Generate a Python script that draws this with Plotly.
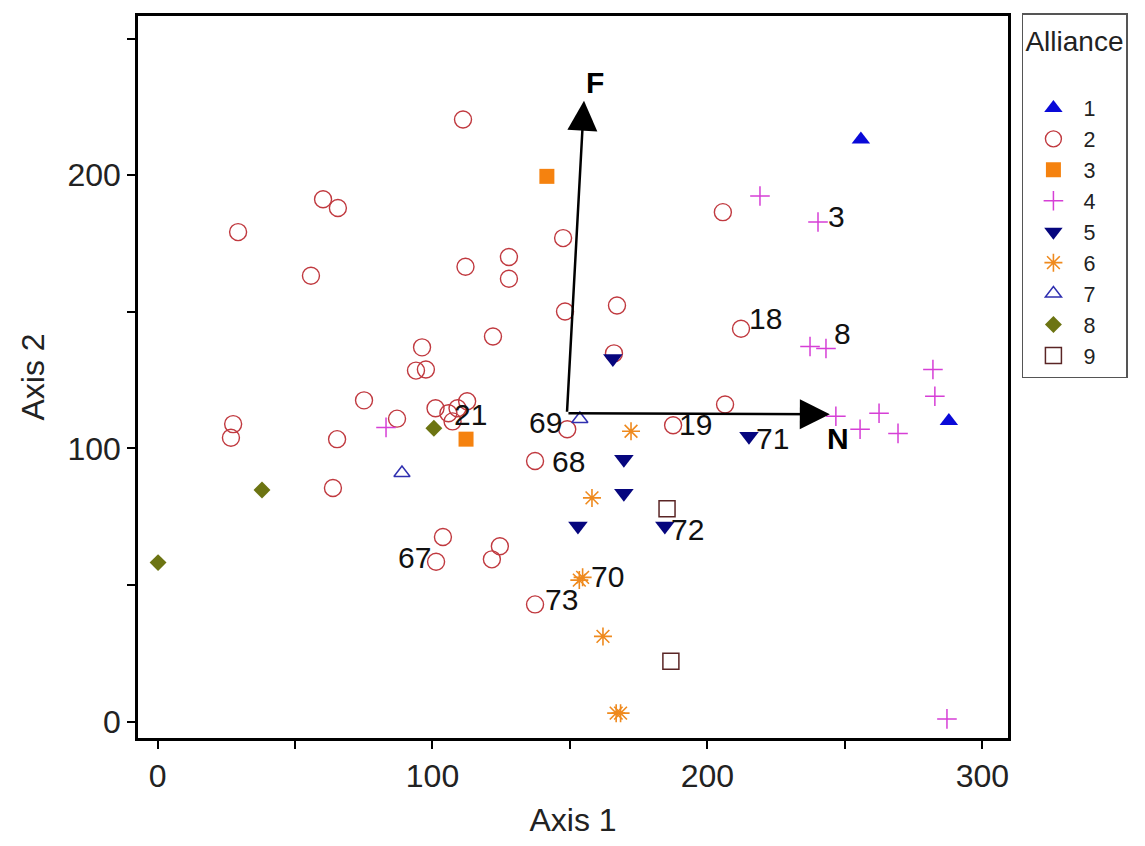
import plotly.graph_objects as go

# ---------------- data ----------------
alliances = ["1", "2", "3", "4", "5", "6", "7", "8", "9"]

a1_x = [255.8, 287.8]
a1_y = [213.1, 110.0]

a2_x = [111.1, 60.2, 65.6, 29.3, 55.8, 147.5, 127.8, 112.0, 127.8, 205.6,
        167.1, 148.2, 212.2, 122.0, 96.2, 166.0, 94.0, 97.6, 75.1, 87.1,
        101.1, 105.8, 109.1, 112.6, 107.3, 206.4, 27.5, 26.7, 65.3, 63.8,
        149.0, 187.5, 137.3, 103.8, 101.3, 124.5, 121.6, 137.3]
a2_y = [220.4, 191.2, 188.0, 179.2, 163.2, 177.0, 170.1, 166.5, 162.1, 186.5,
        152.3, 150.1, 143.8, 141.0, 137.0, 134.8, 128.5, 128.9, 117.6, 110.9,
        114.7, 112.9, 114.7, 117.3, 109.9, 116.1, 108.9, 103.9, 103.4, 85.5,
        107.0, 108.5, 95.4, 67.6, 58.5, 64.2, 59.4, 42.9]

a3_x = [141.6, 112.2]
a3_y = [199.6, 103.4]

a4_x = [219.1, 240.2, 237.3, 243.1, 282.0, 282.7, 246.7, 262.4, 255.5, 269.3, 287.1, 83.1]
a4_y = [192.4, 182.9, 137.3, 136.6, 128.9, 119.1, 111.8, 112.9, 107.0, 105.5, 1.0, 107.7]

a5_x = [165.6, 215.1, 169.6, 169.6, 152.9, 184.5]
a5_y = [132.9, 104.5, 96.0, 83.6, 71.6, 71.6]

a6_x = [172.2, 158.0, 154.6, 153.4, 162.0, 166.8, 168.4]
a6_y = [106.3, 81.9, 52.8, 51.8, 31.2, 3.1, 3.1]

a7_x = [153.6, 88.9]
a7_y = [110.8, 91.0]

a8_x = [100.5, 38.0, 0.2]
a8_y = [107.4, 84.8, 58.2]

a9_x = [185.3, 186.7]
a9_y = [77.9, 22.1]

# biplot vectors (origin and tips)
vec_names = ["F", "N"]
vec_origin = (148.9, 112.9)
vec_tip_x = [155.1, 244.5]
vec_tip_y = [227.3, 112.5]

# point labels: text, alliance group, index in that group
label_text = ["3", "18", "8", "21", "69", "19", "68", "71", "72", "70", "73", "67"]
label_group = ["4", "2", "4", "2", "2", "2", "2", "5", "5", "6", "2", "2"]
label_index = [1, 12, 3, 23, 30, 31, 32, 1, 5, 2, 37, 34]

x_ticks = [0, 50, 100, 150, 200, 250, 300]
x_ticktext = ["0", "", "100", "", "200", "", "300"]
y_ticks = [0, 50, 100, 150, 200, 250]
y_ticktext = ["0", "", "100", "", "200", ""]

# ---------------- styles ----------------
FONT = "Liberation Sans, Arial, sans-serif"
groups = {
    "1": (a1_x, a1_y, dict(symbol="triangle-up", size=16, color="#0a0ad8")),
    "2": (a2_x, a2_y, dict(symbol="circle-open", size=17, color="#c0393f", line=dict(width=1.4))),
    "3": (a3_x, a3_y, dict(symbol="square", size=15, color="#f5820f")),
    "4": (a4_x, a4_y, dict(symbol="cross-thin-open", size=14, color="#d63fd6", line=dict(width=1.5))),
    "5": (a5_x, a5_y, dict(symbol="triangle-down", size=17, color="#06067e")),
    "6": (a6_x, a6_y, dict(symbol="asterisk-open", size=15, color="#ef8a1e", line=dict(width=1.6))),
    "7": (a7_x, a7_y, dict(symbol="triangle-up-open", size=14, color="#3030b0", line=dict(width=1.5))),
    "8": (a8_x, a8_y, dict(symbol="diamond", size=13, color="#6c7412")),
    "9": (a9_x, a9_y, dict(symbol="square-open", size=16, color="#5a2525", line=dict(width=1.5))),
}
# label offsets in pixels (dx right, dy down)
label_offsets = [(18, -5), (24, -10), (17, -15), (3, 13), (-22, -7), (22, -1),
                 (33, 0), (24, 2), (23, 3), (25, -1), (26, -5), (-22, -4)]
vec_label_offsets = [(11, -18), (8, 24)]

fig = go.Figure()

for name in alliances:
    xs, ys, mk = groups[name]
    fig.add_trace(go.Scatter(x=xs, y=ys, mode="markers", name=name,
                             marker=mk, showlegend=True))

# arrows
for name, tx, ty, (dx, dy) in zip(vec_names, vec_tip_x, vec_tip_y, vec_label_offsets):
    fig.add_annotation(x=tx, y=ty, ax=vec_origin[0], ay=vec_origin[1],
                       xref="x", yref="y", axref="x", ayref="y",
                       text="", showarrow=True, arrowhead=2, arrowsize=2.4,
                       arrowwidth=2.5, arrowcolor="black", standoff=0)
    fig.add_annotation(x=tx, y=ty, xref="x", yref="y", text="<b>%s</b>" % name,
                       showarrow=False, xshift=dx, yshift=-dy,
                       font=dict(family=FONT, size=30, color="black"))

# point labels
for txt, g, idx, (dx, dy) in zip(label_text, label_group, label_index, label_offsets):
    xs, ys, _ = groups[g]
    fig.add_annotation(x=xs[idx], y=ys[idx], xref="x", yref="y", text=txt,
                       showarrow=False, xshift=dx, yshift=-dy,
                       font=dict(family=FONT, size=30, color="#111111"))

axis_common = dict(showline=True, linecolor="black", linewidth=2.5, mirror=True,
                   ticks="outside", ticklen=8, tickwidth=2, tickcolor="black",
                   showgrid=False, zeroline=False, automargin=False,
                   tickfont=dict(family=FONT, size=32, color="#222222"))

# the page body keeps its default 8px margin, so the figure is 16px smaller
fig.update_layout(
    width=1129, height=830,
    margin=dict(l=130, r=129, t=5, b=100),
    paper_bgcolor="white", plot_bgcolor="white",
    font=dict(family=FONT, color="#222222"),
    xaxis=dict(range=[-7.1, 309.3], tickvals=x_ticks, ticktext=x_ticktext,
               title=dict(text="Axis 1", font=dict(family=FONT, size=32), standoff=22),
               **axis_common),
    yaxis=dict(range=[-6.0, 258.3], tickvals=y_ticks, ticktext=y_ticktext,
               title=dict(text="Axis 2", font=dict(family=FONT, size=32), standoff=14),
               **axis_common),
    legend=dict(x=1.016, y=1.004, xanchor="left", yanchor="top",
                bgcolor="white", bordercolor="#555555", borderwidth=1.5,
                font=dict(family=FONT, size=21.5, color="#222222"),
                title=dict(text="Alliance<br> ", font=dict(family=FONT, size=28)),
                itemsizing="trace", itemwidth=50),
)

fig.write_html("out.html")
